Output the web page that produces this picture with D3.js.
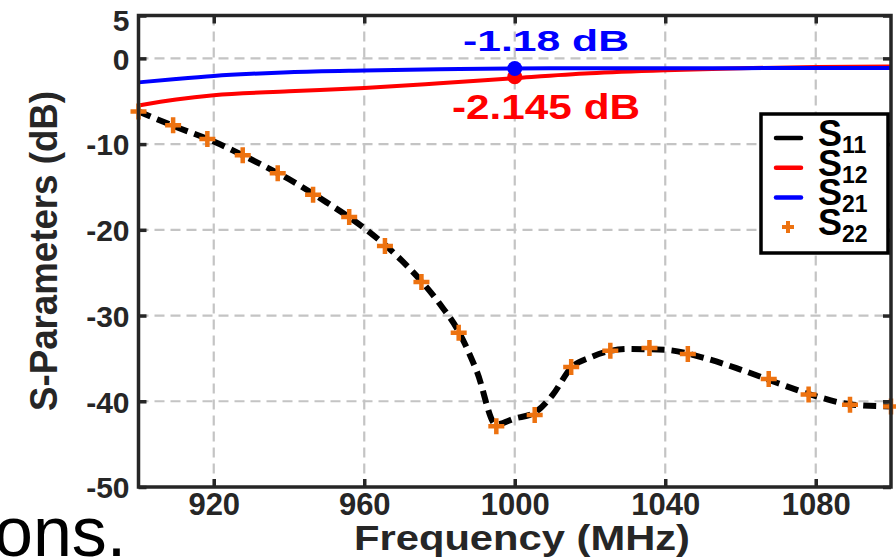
<!DOCTYPE html>
<html>
<head>
<meta charset="utf-8">
<script src="https://cdn.jsdelivr.net/npm/d3@7"></script>
<style>
  html, body { margin: 0; padding: 0; background: #fff; }
  svg { display: block; font-family: "Liberation Sans", Arial, sans-serif; }
</style>
</head>
<body>
<svg width="896" height="559"></svg>
<script>
// values
var s11Freq = [900, 910, 920, 930, 940, 950, 960, 970, 980, 985, 990, 995, 1000, 1005, 1010, 1015, 1020, 1030, 1040, 1050, 1060, 1070, 1080, 1090, 1100];
var s11Db   = [-6.2, -8.0, -9.7, -11.8, -14.1, -16.8, -19.8, -23.6, -28.6, -31.8, -36.6, -42.7, -42.0, -41.4, -39.3, -36.1, -34.9, -33.9, -34.0, -34.9, -36.3, -37.9, -39.4, -40.4, -40.6];

var s12Freq = [900, 910, 920, 940, 960, 980, 1000, 1020, 1040, 1060, 1080, 1100];
var s12Db   = [-5.5, -4.8, -4.3, -3.85, -3.45, -2.9, -2.3, -1.75, -1.4, -1.15, -1.02, -0.95];

var s21Freq = [900, 910, 920, 930, 940, 960, 980, 1000, 1020, 1040, 1060, 1080, 1100];
var s21Db   = [-2.8, -2.4, -2.05, -1.8, -1.62, -1.42, -1.28, -1.18, -1.16, -1.15, -1.14, -1.13, -1.12];

var s22Freq = [900, 909.2, 918.3, 927.7, 937, 946.4, 956, 965.5, 975.2, 985.1, 995.1, 1005.3, 1015, 1025.4, 1035.8, 1046, 1067.5, 1078.1, 1089.1, 1100];
var s22Db   = [-6.2, -7.8, -9.4, -11.3, -13.4, -15.9, -18.5, -21.9, -26.1, -32.0, -42.9, -41.6, -36.0, -34.1, -33.8, -34.5, -37.4, -39.2, -40.4, -40.6];

var xTicks = [920, 960, 1000, 1040, 1080];
var yTicks = [5, 0, -10, -20, -30, -40, -50];

var markFreq = 1000;
var markS21 = -1.18;
var markS12 = -2.145;

var svg = d3.select("svg");

var x = d3.scaleLinear().domain([900, 1100]).range([138.5, 891]);
var y = d3.scaleLinear().domain([-50, 5]).range([487, 15.5]);

var orange = "#ed7210";

// background text of the page under the figure
svg.append("text")
    .attr("x", -6).attr("y", 556)
    .attr("font-size", 70)
    .attr("fill", "#000")
    .text("ons.");

// grid
var grid = svg.append("g").attr("stroke", "#c4c4c4").attr("stroke-width", 2.2).attr("stroke-dasharray", "10,6");
grid.selectAll("line.v").data(xTicks).enter().append("line")
    .attr("x1", function(d) { return x(d); }).attr("x2", function(d) { return x(d); })
    .attr("y1", y(5)).attr("y2", y(-50));
grid.selectAll("line.h").data(yTicks.filter(function(d) { return d < 5 && d > -50; })).enter().append("line")
    .attr("y1", function(d) { return y(d); }).attr("y2", function(d) { return y(d); })
    .attr("x1", x(900)).attr("x2", x(1100));

// curves
function series(fs, vs) {
    return fs.map(function(f, i) { return [f, vs[i]]; });
}
var line = d3.line()
    .x(function(d) { return x(d[0]); })
    .y(function(d) { return y(d[1]); })
    .curve(d3.curveMonotoneX);

svg.append("path").datum(series(s11Freq, s11Db))
    .attr("d", line).attr("fill", "none")
    .attr("stroke", "#000").attr("stroke-width", 6)
    .attr("stroke-dasharray", "13,7");

svg.append("path").datum(series(s12Freq, s12Db))
    .attr("d", line).attr("fill", "none")
    .attr("stroke", "#ff0000").attr("stroke-width", 4);

svg.append("path").datum(series(s21Freq, s21Db))
    .attr("d", line).attr("fill", "none")
    .attr("stroke", "#0000ff").attr("stroke-width", 4);

svg.append("g").selectAll("path").data(series(s22Freq, s22Db)).enter().append("path")
    .attr("transform", function(d) { return "translate(" + x(d[0]) + "," + y(d[1]) + ")"; })
    .attr("d", "M-8,0H8M0,-8V8")
    .attr("stroke", orange).attr("stroke-width", 4.5);

// axes box and ticks
var axisColor = "#262626";
svg.append("rect")
    .attr("x", x(900)).attr("y", y(5))
    .attr("width", x(1100) - x(900)).attr("height", y(-50) - y(5))
    .attr("fill", "none").attr("stroke", axisColor).attr("stroke-width", 3.5);

var fmt = function(d) { return String(d); };
var xb = d3.axisBottom(x).tickValues(xTicks).tickSize(-8).tickFormat(fmt);
var xt = d3.axisTop(x).tickValues(xTicks).tickSize(-8).tickFormat("");
var yl = d3.axisLeft(y).tickValues(yTicks).tickSize(-8).tickFormat(fmt);
var yr = d3.axisRight(y).tickValues(yTicks).tickSize(-8).tickFormat("");

function styleAxis(g) {
    g.select(".domain").remove();
    g.selectAll(".tick line").attr("stroke", axisColor).attr("stroke-width", 3.5);
    g.selectAll(".tick text").attr("fill", "#262626")
        .attr("font-weight", "bold").attr("font-family", "'Liberation Sans', Arial, sans-serif");
}

svg.append("g").attr("transform", "translate(0," + y(-50) + ")").call(xb).call(styleAxis)
    .selectAll(".tick text").attr("font-size", 31).attr("dy", "0.71em").attr("y", 6);
svg.append("g").attr("transform", "translate(0," + y(5) + ")").call(xt).call(styleAxis);
var yg = svg.append("g").attr("transform", "translate(" + x(900) + ",0)").call(yl).call(styleAxis);
yg.selectAll(".tick text").attr("font-size", 30).attr("x", -9).attr("dy", "0.36em");
yg.selectAll(".tick").filter(function(d) { return d === 5; }).select("text").attr("dy", "0.5em");
svg.append("g").attr("transform", "translate(" + x(1100) + ",0)").call(yr).call(styleAxis);

// axis titles
svg.append("text")
    .attr("x", 522).attr("y", 550)
    .attr("text-anchor", "middle")
    .attr("font-size", 35).attr("font-weight", "bold").attr("fill", "#262626")
    .attr("textLength", 336).attr("lengthAdjust", "spacingAndGlyphs")
    .text("Frequency (MHz)");

svg.append("text")
    .attr("transform", "translate(57,251) rotate(-90)")
    .attr("text-anchor", "middle")
    .attr("font-size", 38).attr("font-weight", "bold").attr("fill", "#262626")
    .attr("textLength", 320).attr("lengthAdjust", "spacingAndGlyphs")
    .text("S-Parameters (dB)");

// markers at 1000 MHz
svg.append("circle").attr("cx", x(markFreq)).attr("cy", y(markS12)).attr("r", 7.5).attr("fill", "#ff0000");
svg.append("circle").attr("cx", x(markFreq)).attr("cy", y(markS21)).attr("r", 7.5).attr("fill", "#0000ff");

svg.append("text")
    .attr("x", 463).attr("y", 51)
    .attr("font-size", 30).attr("font-weight", "bold").attr("fill", "#0000ff")
    .attr("textLength", 166).attr("lengthAdjust", "spacingAndGlyphs")
    .text(markS21 + " dB");

svg.append("text")
    .attr("x", 452).attr("y", 119)
    .attr("font-size", 35).attr("font-weight", "bold").attr("fill", "#ff0000")
    .attr("textLength", 188).attr("lengthAdjust", "spacingAndGlyphs")
    .text(markS12 + " dB");

// legend
var legend = svg.append("g");
legend.append("rect")
    .attr("x", 761).attr("y", 114).attr("width", 127).attr("height", 139)
    .attr("fill", "#fff").attr("stroke", "#000").attr("stroke-width", 3.5);

var legendItems = [
    { name: "11", color: "#000", type: "line" },
    { name: "12", color: "#ff0000", type: "line" },
    { name: "21", color: "#0000ff", type: "line" },
    { name: "22", color: orange, type: "plus" }
];
legendItems.forEach(function(d, i) {
    var cy = 138 + i * 29.7;
    if (d.type === "line") {
        legend.append("line")
            .attr("x1", 776).attr("x2", 801).attr("y1", cy).attr("y2", cy)
            .attr("stroke", d.color).attr("stroke-width", 4.5).attr("stroke-linecap", "round");
    } else {
        legend.append("path")
            .attr("transform", "translate(788," + cy + ")")
            .attr("d", "M-6,0H6M0,-6V6")
            .attr("stroke", d.color).attr("stroke-width", 4);
    }
    var t = legend.append("text")
        .attr("x", 818).attr("y", cy + 8)
        .attr("fill", "#000").attr("font-weight", "bold");
    t.append("tspan").attr("font-size", 36).text("S");
    t.append("tspan").attr("font-size", 23).attr("dy", 7).text(d.name);
});
</script>
</body>
</html>
